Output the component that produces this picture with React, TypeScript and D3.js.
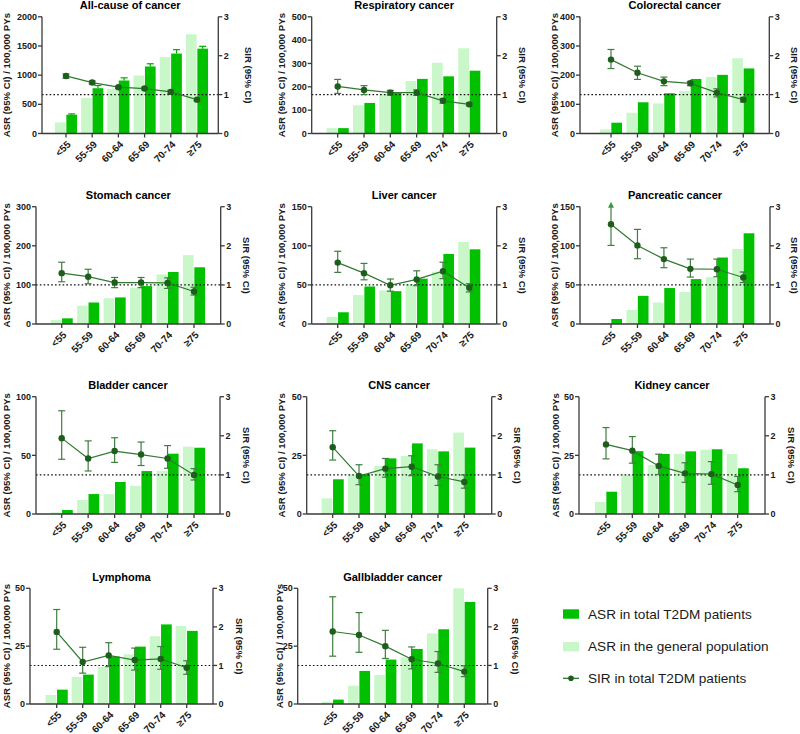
import React from "react";
import * as d3 from "d3";

const ageGroups = ["<55", "55-59", "60-64", "65-69", "70-74", "≥75"];
const panelTitles = [
  "All-cause of cancer", "Respiratory cancer", "Colorectal cancer",
  "Stomach cancer", "Liver cancer", "Pancreatic cancer",
  "Bladder cancer", "CNS cancer", "Kidney cancer",
  "Lymphoma", "Gallbladder cancer",
];
const asrMax = [2000, 500, 400, 300, 150, 150, 100, 50, 50, 50, 50];
const asrTickStep = [500, 100, 100, 100, 50, 50, 50, 25, 25, 25, 25];
const sirTicks = [0, 1, 2, 3];
const sirMax = 3;

// ASR in the general population
const asrGeneral = [
  [190, 609, 764, 994, 1310, 1701],
  [23, 121, 171, 225, 303, 365],
  [14, 71, 103, 146, 194, 258],
  [10, 47, 66, 93, 127, 176],
  [9, 37, 43, 51, 67, 105],
  [1.3, 18, 27.5, 41, 60, 96],
  [1.4, 12, 17, 24, 36.6, 57.4],
  [6.7, 16.9, 20.5, 24.7, 27.6, 34.7],
  [5.1, 16.8, 20.9, 25.6, 27.4, 25.6],
  [3.9, 11.7, 16, 21.5, 29.3, 33.7],
  [1.0, 7.9, 12.5, 20.2, 30.5, 50],
];
// ASR in total T2DM patients
const asrT2dm = [
  [322, 776, 908, 1149, 1370, 1454],
  [23, 131, 175, 234, 245, 269],
  [37, 107, 138, 187, 201, 223],
  [14.5, 55, 68, 97, 133, 145],
  [15, 48, 42, 58, 89.5, 95.5],
  [6.4, 36, 46, 57.4, 85, 116],
  [3.4, 17, 27.3, 36.6, 51.4, 56.5],
  [14.8, 17, 23.7, 30.1, 26.7, 28.3],
  [9.5, 26.8, 25.6, 26.7, 27.6, 19.5],
  [6.2, 12.7, 20.5, 24.8, 34.4, 31.6],
  [1.9, 14.3, 19.2, 23.8, 32.3, 44.1],
];
// upper 95% CI of ASR in T2DM patients (all-cause panel)
const allCauseT2dmUpper = [336, 822, 954, 1195, 1437, 1494];

// SIR in total T2DM patients
const sir = [
  [1.48, 1.31, 1.19, 1.155, 1.07, 0.87],
  [1.21, 1.12, 1.05, 1.05, 0.84, 0.75],
  [1.90, 1.56, 1.34, 1.29, 1.05, 0.87],
  [1.30, 1.21, 1.06, 1.06, 1.05, 0.83],
  [1.57, 1.30, 0.99, 1.14, 1.35, 0.93],
  [2.55, 2.01, 1.66, 1.41, 1.40, 1.19],
  [1.94, 1.42, 1.61, 1.52, 1.42, 1.00],
  [1.71, 0.97, 1.16, 1.21, 0.96, 0.82],
  [1.78, 1.62, 1.23, 1.04, 1.02, 0.74],
  [1.87, 1.09, 1.26, 1.14, 1.17, 0.94],
  [1.88, 1.79, 1.50, 1.16, 1.05, 0.84],
];
const sirLo = [
  [1.42, 1.27, 1.16, 1.12, 1.03, 0.84],
  [1.03, 1.0, 0.99, 0.98, 0.78, 0.71],
  [1.67, 1.39, 1.23, 1.23, 0.94, 0.81],
  [1.08, 1.03, 0.93, 0.93, 0.91, 0.74],
  [1.32, 1.13, 0.84, 0.98, 1.16, 0.82],
  [2.01, 1.67, 1.44, 1.20, 1.21, 1.06],
  [1.40, 1.10, 1.32, 1.24, 1.17, 0.87],
  [1.38, 0.75, 0.94, 0.98, 0.73, 0.66],
  [1.41, 1.30, 1.01, 0.81, 0.76, 0.57],
  [1.42, 0.80, 0.97, 0.88, 0.90, 0.77],
  [1.24, 1.34, 1.18, 0.91, 0.82, 0.71],
];
const sirHi = [
  [1.53, 1.35, 1.22, 1.19, 1.11, 0.90],
  [1.39, 1.23, 1.11, 1.12, 0.90, 0.79],
  [2.16, 1.73, 1.45, 1.34, 1.15, 0.93],
  [1.58, 1.40, 1.19, 1.19, 1.18, 0.94],
  [1.86, 1.55, 1.15, 1.36, 1.58, 1.03],
  [3.4, 2.42, 1.95, 1.66, 1.66, 1.33],
  [2.64, 1.87, 1.95, 1.84, 1.75, 1.16],
  [2.13, 1.26, 1.42, 1.49, 1.26, 1.00],
  [2.21, 1.98, 1.53, 1.31, 1.34, 0.96],
  [2.45, 1.47, 1.59, 1.45, 1.49, 1.12],
  [2.78, 2.37, 1.91, 1.48, 1.36, 0.99],
];

const legendLabels = [
  "ASR in total T2DM patients",
  "ASR in the general population",
  "SIR in total T2DM patients",
];

// layout (positions only)
const rowY = [
  { top: 16.8, bottom: 133.5 },
  { top: 206.7, bottom: 324 },
  { top: 396.7, bottom: 514 },
  { top: 588.3, bottom: 704 },
];
const panelPos = [
  { row: 0, left: 42, right: 218.3, c0: 66, c5: 197, yl: 7, rl: 248 },
  { row: 0, left: 311.7, right: 496.7, c0: 337.7, c5: 469.3, yl: 282, rl: 522 },
  { row: 0, left: 580, right: 769.3, c0: 611, c5: 743.3, yl: 555, rl: 794 },
  { row: 1, left: 36, right: 220.7, c0: 61.7, c5: 194, yl: 7, rl: 246.7 },
  { row: 1, left: 311.7, right: 496.7, c0: 337.7, c5: 469.3, yl: 282, rl: 522 },
  { row: 1, left: 580, right: 770, c0: 611, c5: 743.3, yl: 555, rl: 794 },
  { row: 2, left: 36, right: 220, c0: 61.7, c5: 194, yl: 7, rl: 246 },
  { row: 2, left: 306.7, right: 491.7, c0: 332.7, c5: 464.3, yl: 282, rl: 517.5 },
  { row: 2, left: 579, right: 765, c0: 606, c5: 737.7, yl: 556, rl: 791 },
  { row: 3, left: 30, right: 213, c0: 56.7, c5: 186.7, yl: 7, rl: 239.5 },
  { row: 3, left: 297.7, right: 487.7, c0: 332.7, c5: 464.3, yl: 280, rl: 515 },
];

const FONT = "'Liberation Sans', Arial, Helvetica, sans-serif";
const LIGHT = "#c9f7c9";
const DARK = "#00c000";
const LINE = "#2f7a2f";
const POINT = "#1d5e1d";
const ERR = "#3f7f3f";
const AXIS = "#3a3a3a";

function Panel({ i }: { i: number }) {
  const p = panelPos[i];
  const { top, bottom } = rowY[p.row];
  const x = d3.scalePoint<string>().domain(ageGroups).range([p.c0, p.c5]);
  const y = d3.scaleLinear().domain([0, asrMax[i]]).range([bottom, top]);
  const ys = d3.scaleLinear().domain([0, sirMax]).range([bottom, top]);
  const yTicks = d3.range(0, asrMax[i] + asrTickStep[i] / 2, asrTickStep[i]);
  const bw = 10.7;
  const gap = 0.7;
  const line = d3
    .line<number>()
    .x((_, k) => x(ageGroups[k]) as number)
    .y((v) => ys(v));
  const cy = (top + bottom) / 2;
  return (
    <g>
      <text x={(p.left + p.right) / 2} y={top - 11.5} dy="0.35em" textAnchor="middle"
        fontFamily={FONT} fontWeight="bold" fontSize={11}>{panelTitles[i]}</text>
      {/* bars */}
      {ageGroups.map((a, k) => {
        const cx = x(a) as number;
        return (
          <g key={a}>
            <rect x={cx - gap / 2 - bw} width={bw} y={y(asrGeneral[i][k])}
              height={bottom - y(asrGeneral[i][k])} fill={LIGHT} />
            <rect x={cx + gap / 2} width={bw} y={y(asrT2dm[i][k])}
              height={bottom - y(asrT2dm[i][k])} fill={DARK} />
            {i === 0 && (
              <g stroke="#00a800" strokeWidth={1.2}>
                <line x1={cx + gap / 2 + bw / 2} x2={cx + gap / 2 + bw / 2}
                  y1={y(asrT2dm[i][k])} y2={y(allCauseT2dmUpper[k])} />
                <line x1={cx + gap / 2 + bw / 2 - 3.5} x2={cx + gap / 2 + bw / 2 + 3.5}
                  y1={y(allCauseT2dmUpper[k])} y2={y(allCauseT2dmUpper[k])} />
              </g>
            )}
          </g>
        );
      })}
      {/* reference line SIR = 1 */}
      <line x1={p.left} x2={p.right} y1={ys(1)} y2={ys(1)} stroke="#111"
        strokeWidth={1.1} strokeDasharray="1.6,2.2" />
      {/* axes */}
      <g stroke={AXIS} strokeWidth={1.3} fill="none">
        <line x1={p.left} x2={p.left} y1={top} y2={bottom} />
        <line x1={p.right} x2={p.right} y1={top} y2={bottom} />
        <line x1={p.left} x2={p.right} y1={bottom} y2={bottom} />
        {yTicks.map((t) => (
          <line key={"l" + t} x1={p.left - 4} x2={p.left} y1={y(t)} y2={y(t)} />
        ))}
        {sirTicks.map((t) => (
          <line key={"r" + t} x1={p.right} x2={p.right + 4} y1={ys(t)} y2={ys(t)} />
        ))}
        {ageGroups.map((a) => (
          <line key={"x" + a} x1={x(a)} x2={x(a)} y1={bottom} y2={bottom + 4} />
        ))}
      </g>
      <g fontFamily={FONT} fontWeight="bold" fill="#1a1a1a">
        {yTicks.map((t) => (
          <text key={"lt" + t} x={p.left - 5} y={y(t)} dy="0.35em" textAnchor="end" fontSize={9}>
            {t}
          </text>
        ))}
        {sirTicks.map((t) => (
          <text key={"rt" + t} x={p.right + 5.5} y={ys(t)} dy="0.35em" textAnchor="start" fontSize={9}>
            {t}
          </text>
        ))}
        {ageGroups.map((a) => (
          <text key={"xt" + a} transform={`translate(${(x(a) as number) + 3},${bottom + 9}) rotate(-45)`}
            dy="0.35em" textAnchor="end" fontSize={10}>
            {a}
          </text>
        ))}
        <text transform={`translate(${p.yl},${cy}) rotate(-90)`} dy="0.35em" textAnchor="middle" fontSize={9.6}>
          ASR (95% CI) / 100,000 PYs
        </text>
        <text transform={`translate(${p.rl},${cy}) rotate(90)`} dy="0.35em" textAnchor="middle" fontSize={9.6}>
          SIR (95% CI)
        </text>
      </g>
      {/* SIR line */}
      <path d={line(sir[i]) || ""} fill="none" stroke={LINE} strokeWidth={1.2} />
      {ageGroups.map((a, k) => {
        const cx = x(a) as number;
        const hi = sirHi[i][k];
        const clipped = hi > sirMax;
        const yHi = ys(Math.min(hi, sirMax));
        const yLo = ys(sirLo[i][k]);
        return (
          <g key={"s" + a}>
            <g stroke={ERR} strokeWidth={1.2}>
              <line x1={cx} x2={cx} y1={yHi} y2={yLo} />
              {!clipped && <line x1={cx - 3.5} x2={cx + 3.5} y1={yHi} y2={yHi} />}
              <line x1={cx - 3.5} x2={cx + 3.5} y1={yLo} y2={yLo} />
            </g>
            {clipped && (
              <path d={`M${cx},${yHi - 5} L${cx - 3},${yHi + 1} L${cx + 3},${yHi + 1} Z`} fill="#3a9a3a" />
            )}
            <circle cx={cx} cy={ys(sir[i][k])} r={3.2} fill={POINT} />
          </g>
        );
      })}
    </g>
  );
}

function Legend() {
  const x0 = 563;
  const rows = [614, 646.7, 678.3];
  return (
    <g fontFamily={FONT} fontSize={13.6} fill="#1a1a1a">
      <rect x={x0} y={rows[0] - 4.7} width={16} height={9.4} fill={DARK} />
      <text x={588} y={rows[0]} dy="0.35em">{legendLabels[0]}</text>
      <rect x={x0} y={rows[1] - 4.7} width={16} height={9.4} fill={LIGHT} />
      <text x={588} y={rows[1]} dy="0.35em">{legendLabels[1]}</text>
      <line x1={x0} x2={x0 + 16} y1={rows[2]} y2={rows[2]} stroke={LINE} strokeWidth={1.3} />
      <circle cx={x0 + 8} cy={rows[2]} r={2.8} fill={POINT} />
      <text x={588} y={rows[2]} dy="0.35em">{legendLabels[2]}</text>
    </g>
  );
}

export default function App() {
  return (
    <svg width={800} height={734} style={{ position: "absolute", left: 0, top: 0, background: "#fff" }}>
      <rect width={800} height={734} fill="#fff" />
      {panelTitles.map((_, i) => (
        <Panel key={i} i={i} />
      ))}
      <Legend />
    </svg>
  );
}
